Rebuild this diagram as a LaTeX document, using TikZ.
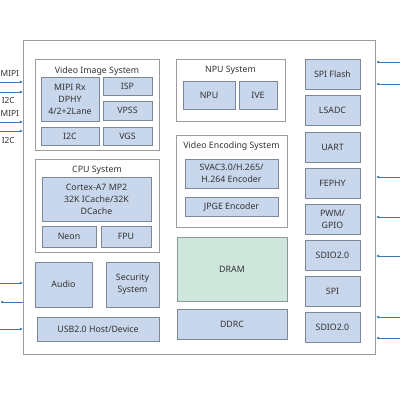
\documentclass[tikz,border=0pt]{standalone}
\usepackage{fontspec}
\setmainfont{Noto Sans}
\usetikzlibrary{arrows.meta}
\definecolor{bfill}{HTML}{C9D7EC}
\definecolor{bdraw}{HTML}{7C8797}
\definecolor{gdraw}{HTML}{9C9C9C}
\definecolor{dfill}{HTML}{CFE6DC}
\definecolor{ddraw}{HTML}{8C9A96}
\definecolor{acol}{HTML}{3B78B4}
\definecolor{tcol}{HTML}{333333}
\tikzset{
  blk/.style={draw=bdraw, fill=bfill, line width=0.9pt, inner sep=1pt, align=center, text=tcol, font=\fontsize{8.8}{12}\selectfont},
  grp/.style={draw=gdraw, fill=white, line width=0.9pt, inner sep=0pt},
  ttl/.style={text=tcol, font=\fontsize{8.8}{12}\selectfont, inner sep=0pt},
  lbl/.style={text=tcol, font=\fontsize{8.4}{12}\selectfont, inner sep=0pt},
  arr/.style={draw=acol, line width=0.7pt, -{Latex[length=3.2pt,width=3pt]}},
}
\begin{document}
\begin{tikzpicture}[x=1pt,y=-1pt]
\useasboundingbox (0,0) rectangle (400,400);
% outer chip
\node[draw=gdraw, line width=0.9pt, minimum width=352pt, minimum height=313.5pt, inner sep=0pt] (chip) at (199.5,197.25) {};

% Video Image System
\node[grp, minimum width=124pt, minimum height=91pt] (vis) at (97,104.5) {};
\node[ttl] (vist) at (97,71) {Video Image System};
\node[blk, minimum width=58pt, minimum height=44pt] (mipi) at (70,99) {MIPI Rx\\DPHY\\4/2+2Lane};
\node[blk, minimum width=49pt, minimum height=18pt] (isp) at (127.5,86) {ISP};
\node[blk, minimum width=49pt, minimum height=19pt] (vpss) at (127.5,110.5) {VPSS};
\node[blk, minimum width=58pt, minimum height=18pt] (i2c) at (70,136) {I2C};
\node[blk, minimum width=49pt, minimum height=18pt] (vgs) at (127.5,136) {VGS};

% NPU System
\node[grp, minimum width=109pt, minimum height=62pt] (npus) at (230.5,90) {};
\node[ttl] (npust) at (230.5,70) {NPU System};
\node[blk, minimum width=52pt, minimum height=28pt] (npu) at (209,95) {NPU};
\node[blk, minimum width=38pt, minimum height=28pt] (ive) at (258,95) {IVE};

% Video Encoding System
\node[grp, minimum width=111pt, minimum height=92pt] (ves) at (231.5,181) {};
\node[ttl] (vest) at (231.5,146) {Video Encoding System};
\node[blk, minimum width=93pt, minimum height=29pt] (svac) at (231.5,173.5) {SVAC3.0/H.265/\\H.264 Encoder};
\node[blk, minimum width=93pt, minimum height=19pt] (jpge) at (231.5,206.5) {JPGE Encoder};

% DRAM / DDRC
\node[blk, draw=ddraw, fill=dfill, minimum width=110pt, minimum height=64pt] (dram) at (232,269) {DRAM};
\node[blk, minimum width=110pt, minimum height=30pt] (ddrc) at (232,324) {DDRC};

% CPU System
\node[grp, minimum width=124pt, minimum height=93pt] (cpus) at (97,205.5) {};
\node[ttl] (cpust) at (97,170) {CPU System};
\node[blk, minimum width=109pt, minimum height=44pt] (cortex) at (96.5,199) {Cortex-A7 MP2\\32K ICache/32K\\DCache};
\node[blk, minimum width=54pt, minimum height=21pt] (neon) at (69,236.5) {Neon};
\node[blk, minimum width=50pt, minimum height=21pt] (fpu) at (126,236.5) {FPU};

% Audio, Security, USB
\node[blk, minimum width=57pt, minimum height=45pt] (audio) at (63.5,284.5) {Audio};
\node[blk, minimum width=53pt, minimum height=45pt] (sec) at (132.5,284.5) {Security\\System};
\node[blk, minimum width=122pt, minimum height=24pt] (usb) at (98,329) {USB2.0 Host/Device};

% right column
\node[blk, minimum width=55pt, minimum height=30pt] (spif) at (332.5,74) {SPI Flash};
\node[blk, minimum width=55pt, minimum height=30pt] (lsadc) at (332.5,110) {LSADC};
\node[blk, minimum width=55pt, minimum height=30pt] (uart) at (332.5,147) {UART};
\node[blk, minimum width=55pt, minimum height=30pt] (fephy) at (332.5,183) {FEPHY};
\node[blk, minimum width=55pt, minimum height=30pt] (pwm) at (332.5,219) {PWM/\\GPIO};
\node[blk, minimum width=55pt, minimum height=30pt] (sdioa) at (332.5,255) {SDIO2.0};
\node[blk, minimum width=55pt, minimum height=30pt] (spi) at (332.5,291) {SPI};
\node[blk, minimum width=55pt, minimum height=30pt] (sdiob) at (332.5,327) {SDIO2.0};

% left arrows
\foreach \n/\y in {la/82, lb/92, lc/122, ld/131, le/283, lg/329}{
  \coordinate (\n) at (0,\y);
  \draw[arr] (\n) -- (\n -| chip.west);
}
\coordinate (lf) at (0,302);
\draw[arr] (lf -| chip.west) -- (lf);

% labels
\node[lbl, anchor=west] (m1) at (0.5,73) {MIPI};
\node[lbl, anchor=east] (i1) at (15,100) {I2C};
\node[lbl, anchor=west] (m2) at (0.5,113) {MIPI};
\node[lbl, anchor=east] (i2) at (15,140) {I2C};

% right arrows
\foreach \n/\y in {ra/62, rb/84, rc/177, rd/217, re/256, rf/317, rg/338}{
  \coordinate (\n) at (400,\y);
  \draw[arr] (\n) -- (\n -| chip.east);
}
\end{tikzpicture}
\end{document}
